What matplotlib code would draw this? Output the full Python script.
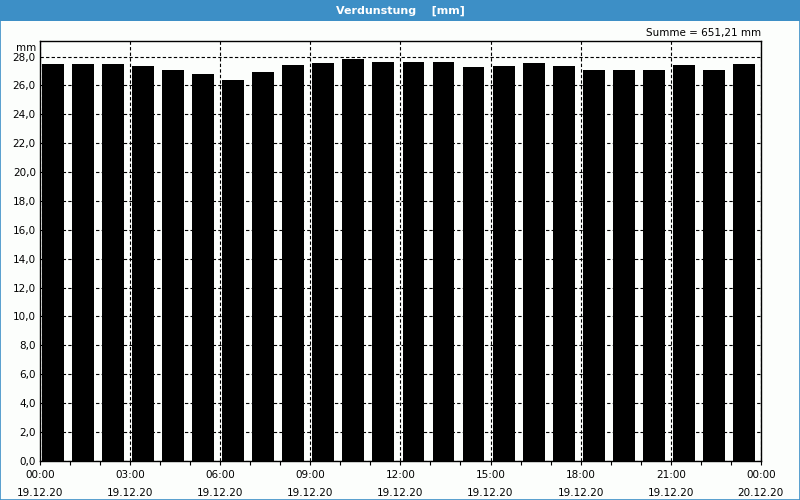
import numpy as np
import matplotlib
matplotlib.use("Agg")
import matplotlib.pyplot as plt
from matplotlib.patches import Rectangle

# hourly evaporation values [mm], 19.12.20 00:00 .. 23:00
hours = list(range(24))
values = [27.49, 27.49, 27.49, 27.35, 27.07, 26.80, 26.38, 26.94, 27.42, 27.56, 27.84, 27.63,
          27.63, 27.63, 27.28, 27.35, 27.56, 27.35, 27.07, 27.07, 27.07, 27.42, 27.07, 27.49]
tick_hours = [0, 3, 6, 9, 12, 15, 18, 21, 24]
tick_labels = ["00:00\n19.12.20", "03:00\n19.12.20", "06:00\n19.12.20", "09:00\n19.12.20",
               "12:00\n19.12.20", "15:00\n19.12.20", "18:00\n19.12.20", "21:00\n19.12.20",
               "00:00\n20.12.20"]
y_ticks = np.arange(0, 29, 2)
total_label = "Summe = 651,21 mm"

BLUE = "#3d8fc6"
BG = "#fcfefc"

plt.rcParams["font.family"] = ["DejaVu Sans"]
fig = plt.figure(figsize=(8, 5), dpi=100, facecolor=BG)

# title bar + outer frame
fig.patches.append(Rectangle((0, 0.958), 1, 0.042, transform=fig.transFigure,
                             facecolor=BLUE, edgecolor="none", zorder=0))
fig.patches.append(Rectangle((0.0006, 0.001), 0.9988, 0.998, transform=fig.transFigure,
                             facecolor="none", edgecolor=BLUE, lw=1.2, zorder=5))
fig.text(0.5, 0.979, "Verdunstung    [mm]", color="white", fontsize=8, fontweight="bold",
         ha="center", va="center")

ax = fig.add_axes([0.05, 0.0786, 0.901, 0.8394], facecolor=BG)
ax.bar([h + 0.07 for h in hours], values, width=0.73, align="edge", color="black", zorder=2)

ax.set_xlim(0, 24)
ax.set_ylim(0, 29.08)
ax.set_xticks(tick_hours)
ax.set_xticklabels(tick_labels, fontsize=7.5, linespacing=1.9)
ax.set_xticks(hours, minor=True)
ax.set_yticks(y_ticks)
ax.set_yticklabels([f"{v:.1f}".replace(".", ",") for v in y_ticks], fontsize=7.5)
ax.tick_params(axis="x", which="both", direction="out", length=3, pad=4, width=0.8)
ax.tick_params(axis="y", length=0, pad=3)

ax.grid(True, axis="both", which="major", color="black", ls=(0, (3, 2)), lw=0.8, zorder=1)
ax.set_axisbelow(True)
for s in ax.spines.values():
    s.set_linewidth(1.0)
    s.set_color("black")

ax.text(-0.005, 0.983, "mm", transform=ax.transAxes, ha="right", va="center", fontsize=7.5)
ax.text(1.0, 1.0 + 8 / 419.7, total_label, transform=ax.transAxes, ha="right", va="center",
        fontsize=7.5)

fig.savefig("out.png", dpi=100, facecolor=BG)
